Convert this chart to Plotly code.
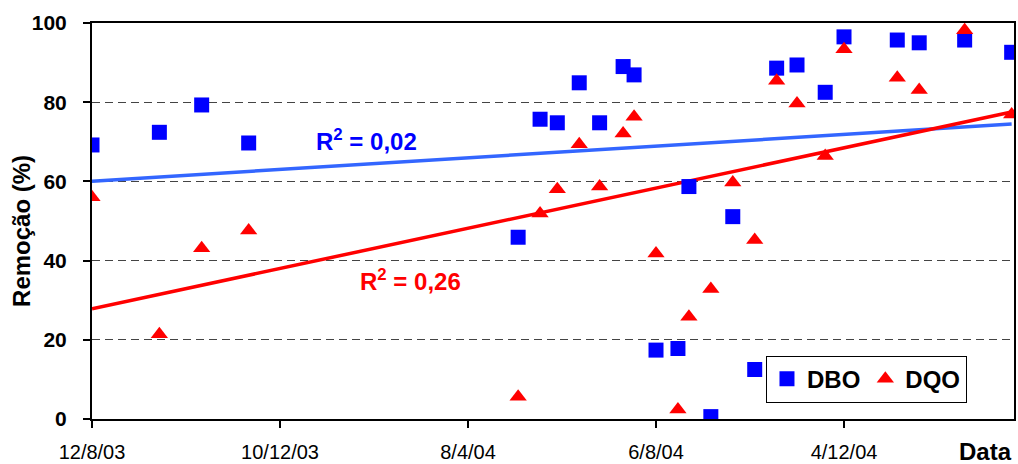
import numpy as np
import pandas as pd
import plotly.graph_objects as go

# ---- data ----
dates = ["2003-08-12", "2003-09-24", "2003-10-21", "2003-11-20",
         "2004-05-10", "2004-05-24", "2004-06-04", "2004-06-18", "2004-07-01",
         "2004-07-16", "2004-07-23", "2004-08-06", "2004-08-20", "2004-08-27",
         "2004-09-10", "2004-09-24", "2004-10-08", "2004-10-22", "2004-11-04",
         "2004-11-22", "2004-12-04", "2005-01-07", "2005-01-21", "2005-02-19",
         "2005-03-21"]
dbo = [69.2, 72.4, 79.3, 69.7, 45.9, 75.7, 74.8, 84.9, 74.8, 89.0, 86.9, 17.4,
       17.8, 58.7, 0.6, 51.1, 12.5, 88.6, 89.4, 82.5, 96.5, 95.7, 95.0, 95.7, 92.6]
dqo = [56.0, 21.4, 43.1, 47.6, 5.6, 51.9, 58.0, 69.4, 58.7, 72.1, 76.3, 41.8,
       2.4, 25.8, 32.8, 59.7, 45.2, 85.4, 79.7, 66.4, 93.4, 86.2, 83.1, 98.2, 76.9]
series_names = ["DBO", "DQO"]
r2_labels = ["R<sup>2</sup> = 0,02", "R<sup>2</sup> = 0,26"]
x_tick_vals = ["2003-08-12", "2003-12-10", "2004-04-08", "2004-08-06", "2004-12-04"]
x_tick_text = ["12/8/03", "10/12/03", "8/4/04", "6/8/04", "4/12/04"]
y_tick_vals = [0, 20, 40, 60, 80, 100]

FONT = "Liberation Sans, Arial, sans-serif"
BLUE = "#0000FF"
BLUE_LINE = "#3366FF"
RED = "#FF0000"

dt = pd.to_datetime(dates)
days = np.array((dt - dt[0]).days, dtype=float)


def trend(values):
    slope, intercept = np.polyfit(days, np.array(values), 1)
    xs = [days.min(), days.max()]
    return [dt[0] + pd.Timedelta(days=d) for d in xs], [intercept + slope * d for d in xs]


fig = go.Figure()

tx, ty = trend(dbo)
fig.add_trace(go.Scatter(x=tx, y=ty, mode="lines", line=dict(color=BLUE_LINE, width=3.5),
                         showlegend=False, hoverinfo="skip"))
tx, ty = trend(dqo)
fig.add_trace(go.Scatter(x=tx, y=ty, mode="lines", line=dict(color=RED, width=3.5),
                         showlegend=False, hoverinfo="skip"))

fig.add_trace(go.Scatter(x=dt, y=dbo, mode="markers", name=series_names[0],
                         marker=dict(symbol="square", size=15, color=BLUE)))
fig.add_trace(go.Scatter(x=dt, y=dqo, mode="markers", name=series_names[1],
                         marker=dict(symbol="triangle-up", size=15, color=RED)))

fig.add_annotation(x="2004-02-03", y=70.5, xref="x", yref="y", text="<b>" + r2_labels[0] + "</b>",
                   showarrow=False, font=dict(family=FONT, size=24, color=BLUE),
                   xanchor="center", yanchor="middle")
fig.add_annotation(x="2004-03-02", y=35.0, xref="x", yref="y", text="<b>" + r2_labels[1] + "</b>",
                   showarrow=False, font=dict(family=FONT, size=24, color=RED),
                   xanchor="center", yanchor="middle")
fig.add_annotation(x=1.0, y=-0.083, xref="paper", yref="paper", text="<b>Data</b>",
                   showarrow=False, font=dict(family=FONT, size=24, color="black"),
                   xanchor="right", yanchor="middle")
fig.add_annotation(x=-0.0759, y=0.475, xref="paper", yref="paper", text="<b>Remoção (%)</b>",
                   showarrow=False, textangle=-90,
                   font=dict(family=FONT, size=24, color="black"),
                   xanchor="center", yanchor="middle")

fig.update_layout(
    width=1018, height=464,
    margin=dict(l=92, r=4, t=23, b=45, autoexpand=False),
    paper_bgcolor="white", plot_bgcolor="white",
    font=dict(family=FONT, color="black"),
    legend=dict(orientation="h", x=0.731, y=0.160, xanchor="left", yanchor="top",
                bordercolor="black", borderwidth=1, bgcolor="white",
                font=dict(family=FONT, size=24, color="black", weight="bold"),
                itemwidth=30, tracegroupgap=0),
)

fig.update_xaxes(
    type="date", automargin=False,
    range=[dt[0], dt[0] + pd.Timedelta(days=588.5)],
    tickmode="array", tickvals=x_tick_vals, ticktext=x_tick_text,
    ticks="outside", ticklen=7, tickwidth=1.5, tickcolor="black",
    tickfont=dict(family=FONT, size=20, color="black"),
    ticklabelstandoff=7,
    showline=True, linecolor="black", linewidth=2, mirror=True,
    showgrid=False, zeroline=False,
)
fig.update_yaxes(
    automargin=False,
    range=[0, 100], tickmode="array", tickvals=y_tick_vals,
    ticks="outside", ticklen=7, tickwidth=1.5, tickcolor="black",
    tickfont=dict(family=FONT, size=21, color="black", weight="bold"),
    ticklabelstandoff=12,
    showline=True, linecolor="black", linewidth=2, mirror=True,
    showgrid=True, gridcolor="#444444", gridwidth=1, griddash="8px,5px",
    zeroline=False,
)

fig.write_html("out.html", config={"displayModeBar": False},
               post_script="document.body.style.margin='0';")
